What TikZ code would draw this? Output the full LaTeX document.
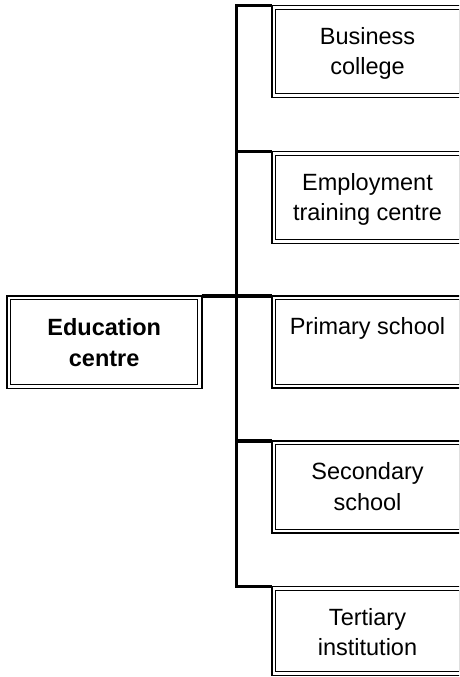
\documentclass[tikz,border=0pt]{standalone}
\usepackage{fontspec}
\setmainfont{Liberation Sans}
\begin{document}
\begin{tikzpicture}[x=1pt,y=-1pt,
  box/.style={draw, line width=1.8pt, minimum width=191pt, minimum height=92pt, inner sep=0pt, outer sep=0pt},
  inbox/.style={line width=1pt},
  txt/.style={font={\fontsize{23.5pt}{30.5pt}\selectfont}, align=center, inner sep=0pt, outer sep=0pt, anchor=north},
  btxt/.style={txt, font={\bfseries\fontsize{23.5pt}{31.5pt}\selectfont}},
  conn/.style={line width=3.2pt, line join=miter}]
\useasboundingbox (0,0) rectangle (459,677);
\clip (0,0) rectangle (459,677);
\fill[white] (0,0) rectangle (459,677);
% boxes
\node[box, anchor=north west, minimum width=195pt, minimum height=92.5pt] (edu) at (6.7,296) {};
\node[box, anchor=north west] (b1) at (272,5.5) {};
\node[box, anchor=north west] (b2) at (272,151.5) {};
\node[box, anchor=north west] (b3) at (272,296) {};
\node[box, anchor=north west] (b4) at (272,441) {};
\node[box, anchor=north west, minimum height=89pt] (b5) at (272,586.5) {};
\foreach \n in {edu,b1,b2,b3,b4,b5}
  \draw[inbox] ([xshift=3.8pt,yshift=-3.8pt]\n.north west) rectangle ([xshift=-3.8pt,yshift=3.8pt]\n.south east);
% texts
\node[btxt] (tedu) at ([yshift=-21.5pt]edu.north) {\rule{0pt}{17.5pt}Education\\centre};
\node[txt] (t1) at ([yshift=-21pt]b1.north) {\rule{0pt}{17.5pt}Business\\college};
\node[txt] (t2) at ([yshift=-21pt]b2.north) {\rule{0pt}{17.5pt}Employment\\training centre};
\node[txt] (t3) at ([yshift=-21pt]b3.north) {\rule{0pt}{17.5pt}Primary school};
\node[txt] (t4) at ([yshift=-21pt]b4.north) {\rule{0pt}{17.5pt}Secondary\\school};
\node[txt] (t5) at ([yshift=-21pt]b5.north) {\rule{0pt}{17.5pt}Tertiary\\institution};
% connectors
\coordinate (spine) at (236.3,0);
\draw[conn] (b1.north west) -- (b1.north west -| spine) -- (b5.north west -| spine) -- (b5.north west);
\foreach \n in {b2,b3,b4}
  \draw[conn] (\n.north west -| spine) -- (\n.north west);
\draw[conn] (edu.north east) -- (b3.north west);
\end{tikzpicture}
\end{document}
